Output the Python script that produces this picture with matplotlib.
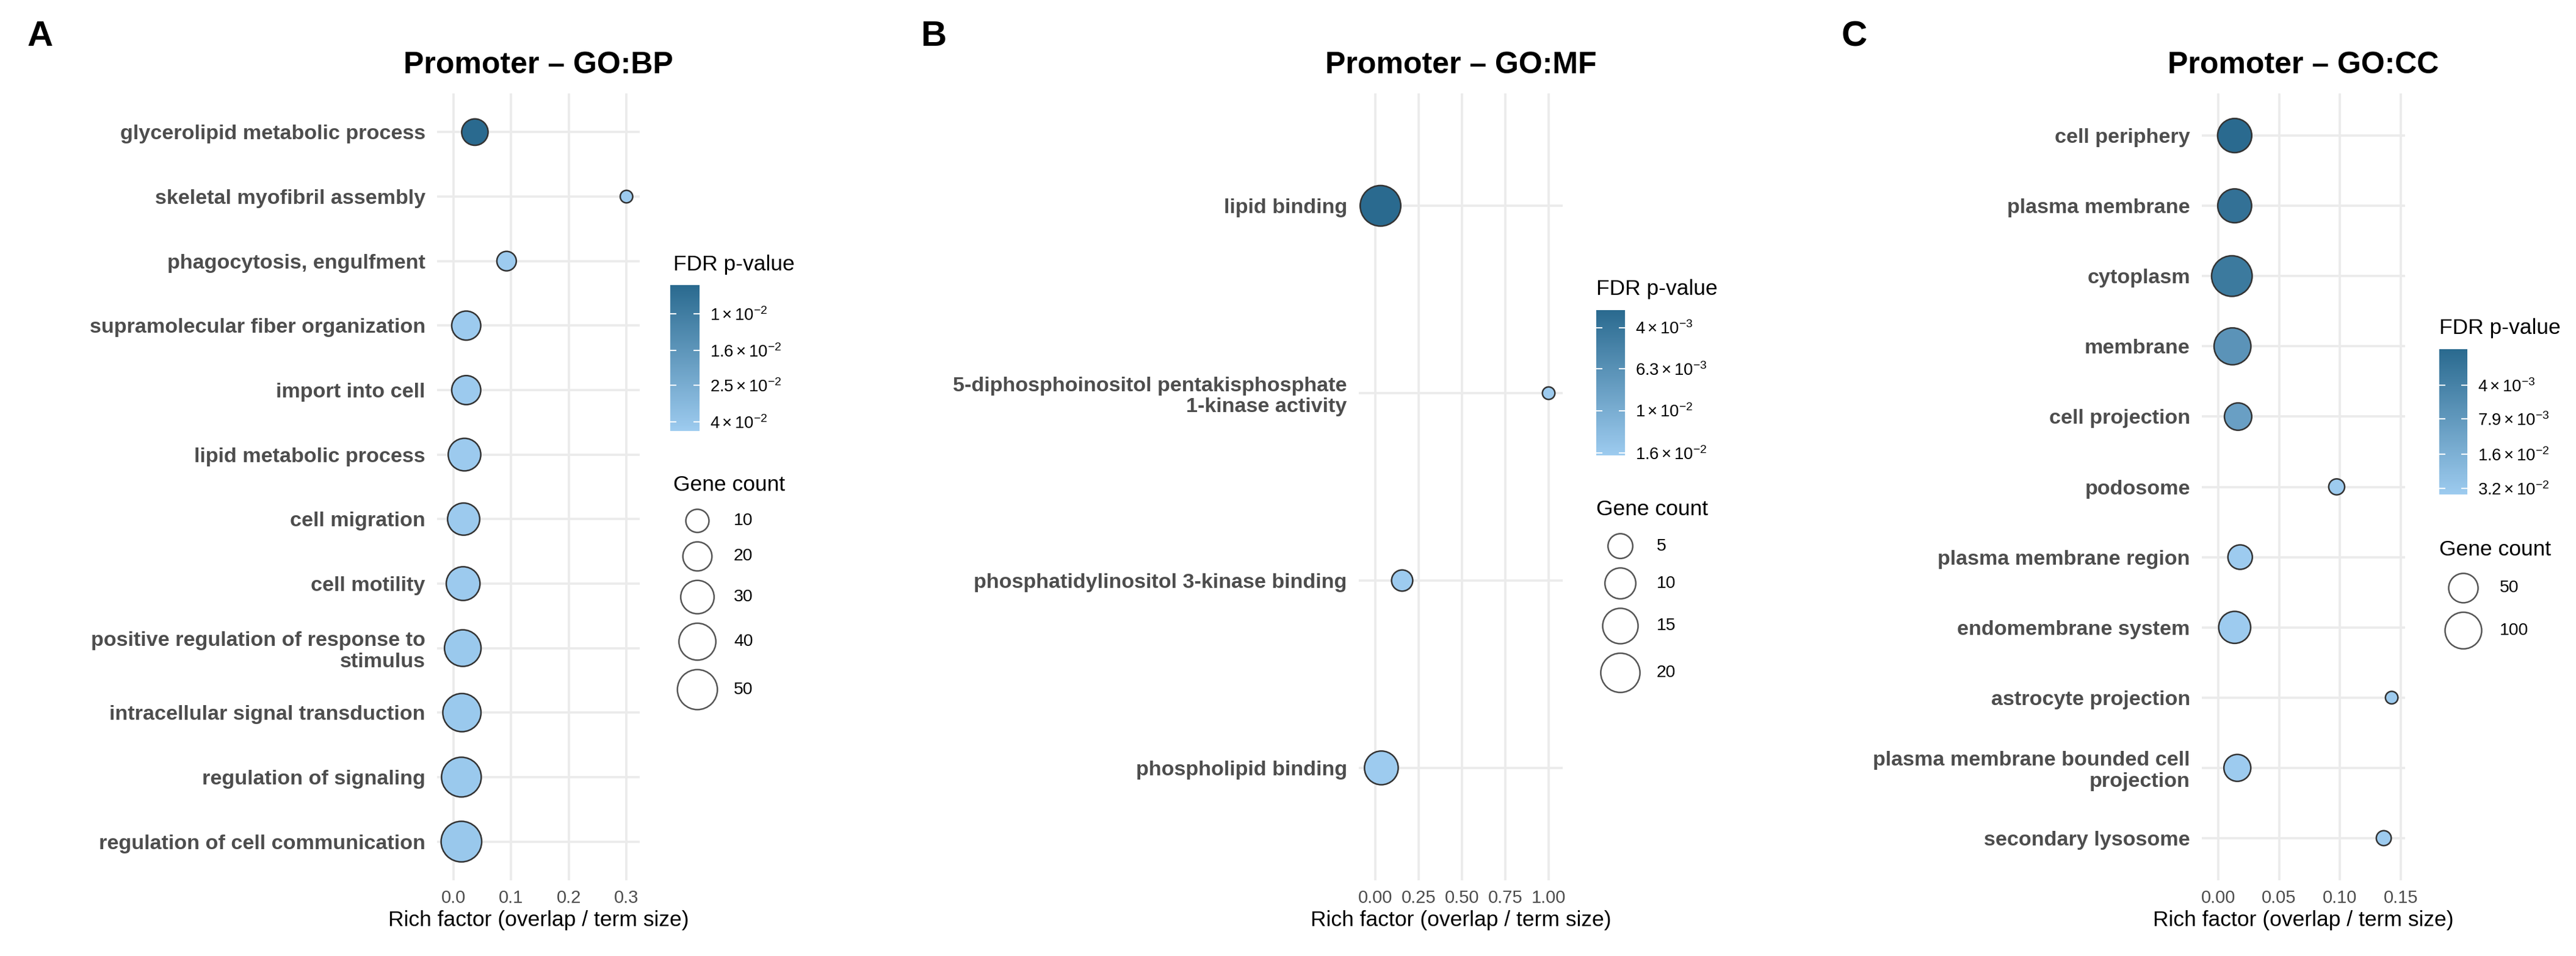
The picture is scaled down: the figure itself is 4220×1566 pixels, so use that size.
import numpy as np
import matplotlib
matplotlib.use('Agg')
import matplotlib.pyplot as plt
from matplotlib.colors import LinearSegmentedColormap, LogNorm
from matplotlib.cm import ScalarMappable

plt.rcParams['font.family'] = ['Liberation Sans', 'DejaVu Sans']
plt.rcParams['mathtext.fontset'] = 'custom'
plt.rcParams['mathtext.rm'] = 'Liberation Sans'
plt.rcParams['mathtext.it'] = 'Liberation Sans:italic'
plt.rcParams['mathtext.bf'] = 'Liberation Sans:bold'

W, H = 4220, 1566
DPI = 300

# ---- data ----
bp_terms = ['glycerolipid metabolic process', 'skeletal myofibril assembly',
            'phagocytosis, engulfment', 'supramolecular fiber organization',
            'import into cell', 'lipid metabolic process', 'cell migration',
            'cell motility', 'positive regulation of response to\nstimulus',
            'intracellular signal transduction', 'regulation of signaling',
            'regulation of cell communication']
bp_rich = [0.037, 0.30, 0.092, 0.022, 0.022, 0.019, 0.0175, 0.0166, 0.016, 0.0145, 0.0136, 0.0136]
bp_count = [15, 3, 6, 20, 20, 28, 27, 31, 39, 44, 49, 52]
bp_fdr = [0.0069, 0.045, 0.045, 0.044, 0.044, 0.044, 0.044, 0.044, 0.043, 0.043, 0.043, 0.042]
bp_breaks = [0.01, 0.016, 0.025, 0.04]
bp_break_labels = [r'$1\times10^{-2}$', r'$1.6\times10^{-2}$', r'$2.5\times10^{-2}$', r'$4\times10^{-2}$']
bp_size_breaks = [10, 20, 30, 40, 50]
bp_xticks = [0.0, 0.1, 0.2, 0.3]
bp_xticklabels = ['0.0', '0.1', '0.2', '0.3']

mf_terms = ['lipid binding', '5-diphosphoinositol pentakisphosphate\n1-kinase activity',
            'phosphatidylinositol 3-kinase binding', 'phospholipid binding']
mf_rich = [0.03, 1.0, 0.155, 0.035]
mf_count = [22, 1, 3, 13]
mf_fdr = [0.0033, 0.0164, 0.0164, 0.0164]
mf_breaks = [0.004, 0.0063, 0.01, 0.016]
mf_break_labels = [r'$4\times10^{-3}$', r'$6.3\times10^{-3}$', r'$1\times10^{-2}$', r'$1.6\times10^{-2}$']
mf_size_breaks = [5, 10, 15, 20]
mf_xticks = [0.0, 0.25, 0.5, 0.75, 1.0]
mf_xticklabels = ['0.00', '0.25', '0.50', '0.75', '1.00']

cc_terms = ['cell periphery', 'plasma membrane', 'cytoplasm', 'membrane', 'cell projection',
            'podosome', 'plasma membrane region', 'endomembrane system', 'astrocyte projection',
            'plasma membrane bounded cell\nprojection', 'secondary lysosome']
cc_rich = [0.0135, 0.0135, 0.0112, 0.0117, 0.0163, 0.0973, 0.018, 0.0135, 0.1425, 0.0157, 0.136]
cc_count = [81, 79, 135, 102, 39, 4, 26, 66, 2, 37, 3]
cc_fdr = [0.00193, 0.0024, 0.0031, 0.0068, 0.0097, 0.036, 0.036, 0.036, 0.036, 0.036, 0.0362]
cc_breaks = [0.004, 0.0079, 0.016, 0.032]
cc_break_labels = [r'$4\times10^{-3}$', r'$7.9\times10^{-3}$', r'$1.6\times10^{-2}$', r'$3.2\times10^{-2}$']
cc_size_breaks = [50, 100]
cc_xticks = [0.0, 0.05, 0.10, 0.15]
cc_xticklabels = ['0.00', '0.05', '0.10', '0.15']

cmap = LinearSegmentedColormap.from_list('fdr', ['#2A6A8F', '#9DCBEF'])


def box(x0, y0, x1, y1):
    return [x0 / W, 1 - y1 / H, (x1 - x0) / W, (y1 - y0) / H]


def diam(c, cmin, cmax):
    return 23 + 46 * np.sqrt((np.asarray(c, float) - cmin) / (cmax - cmin))


def area(d, lw):
    return (d * 72 / DPI - lw) ** 2


fig = plt.figure(figsize=(W / DPI, H / DPI), dpi=DPI)
ov = fig.add_axes([0, 0, 1, 1])
ov.set_xlim(0, W)
ov.set_ylim(H, 0)
ov.axis('off')

panels = [
    dict(letter='A', lx=45, title='Promoter \u2013 GO:BP', terms=bp_terms, rich=bp_rich, count=bp_count,
         fdr=bp_fdr, breaks=bp_breaks, blabels=bp_break_labels, sbreaks=bp_size_breaks,
         xticks=bp_xticks, xtl=bp_xticklabels, pbox=(716, 153, 1048, 1442), xlim=(-0.0286, 0.323),
         leg_x=1103, fdr_y=434, cbox=(1098, 467, 1146, 706), gc_y=795),
    dict(letter='B', lx=1508, title='Promoter \u2013 GO:MF', terms=mf_terms, rich=mf_rich, count=mf_count,
         fdr=mf_fdr, breaks=mf_breaks, blabels=mf_break_labels, sbreaks=mf_size_breaks,
         xticks=mf_xticks, xtl=mf_xticklabels, pbox=(2226, 153, 2560, 1442), xlim=(-0.095, 1.081),
         leg_x=2615, fdr_y=474, cbox=(2615, 508, 2662, 746), gc_y=835),
    dict(letter='C', lx=3017, title='Promoter \u2013 GO:CC', terms=cc_terms, rich=cc_rich, count=cc_count,
         fdr=cc_fdr, breaks=cc_breaks, blabels=cc_break_labels, sbreaks=cc_size_breaks,
         xticks=cc_xticks, xtl=cc_xticklabels, pbox=(3607, 153, 3940, 1442), xlim=(-0.0135, 0.1535),
         leg_x=3996, fdr_y=538, cbox=(3996, 572, 4042, 810), gc_y=900),
]

for p in panels:
    x0, y0, x1, y1 = p['pbox']
    ax = fig.add_axes(box(x0, y0, x1, y1))
    n = len(p['terms'])
    ypos = np.arange(n)
    cmin, cmax = min(p['count']), max(p['count'])
    norm = LogNorm(vmin=min(p['fdr']), vmax=max(p['fdr']))
    ax.scatter(p['rich'], ypos, s=area(diam(p['count'], cmin, cmax), 0.6),
               c=cmap(norm(p['fdr'])), edgecolors='#333333', linewidths=0.6, zorder=3)
    ax.set_xlim(*p['xlim'])
    ax.set_ylim(n - 1 + 0.6, -0.6)
    ax.set_yticks(ypos, p['terms'])
    ax.set_xticks(p['xticks'], p['xtl'])
    for s in ax.spines.values():
        s.set_visible(False)
    ax.grid(True, color='#EBEBEB', linewidth=0.9)
    ax.set_axisbelow(True)
    ax.tick_params(axis='y', length=0, pad=4.6, labelsize=8.2, labelcolor='#4D4D4D')
    ax.tick_params(axis='x', length=0, pad=3.6, labelsize=7.0, labelcolor='#4D4D4D')
    for t in ax.get_yticklabels():
        t.set_fontweight('bold')
        t.set_linespacing(1.15)
    ax.set_xlabel('Rich factor (overlap / term size)', fontsize=8.5, labelpad=1.5)

    fig.text((x0 + x1) / 2 / W, 1 - 107 / H, p['title'], ha='center', va='center',
             fontsize=12, fontweight='bold')
    fig.text(p['lx'] / W, 1 - 60 / H, p['letter'], ha='left', va='center',
             fontsize=14, fontweight='bold')

    # colour legend
    lx = p['leg_x']
    ov.text(lx, p['fdr_y'], 'FDR p-value', ha='left', va='center', fontsize=8.5)
    cax = fig.add_axes(box(*p['cbox']))
    cb = fig.colorbar(ScalarMappable(norm=norm, cmap=cmap), cax=cax)
    cb.outline.set_visible(False)
    cax.minorticks_off()
    cb.set_ticks(p['breaks'], labels=p['blabels'])
    cax.invert_yaxis()
    cax.tick_params(axis='y', which='both', left=True, right=True, direction='in',
                    length=2.4, width=0.5, color='white', labelsize=6.6, pad=4)

    # size legend
    ov.text(lx, p['gc_y'], 'Gene count', ha='left', va='center', fontsize=8.5)
    d = diam(p['sbreaks'], cmin, cmax)
    dmax = diam(cmax, cmin, cmax)
    ys = [p['gc_y'] + 38 + d[0] / 2]
    for i in range(1, len(d)):
        ys.append(ys[-1] + (d[i - 1] + d[i]) / 2 + 13)
    cx = lx + dmax / 2 + 5
    ov.scatter([cx] * len(d), ys, s=area(d, 0.6), facecolors='white',
               edgecolors='#555555', linewidths=0.6, clip_on=False)
    for yy, v in zip(ys, p['sbreaks']):
        ov.text(lx + dmax + 30, yy, str(v), ha='left', va='center', fontsize=6.8)

fig.savefig('out.png', dpi=DPI, facecolor='white')
